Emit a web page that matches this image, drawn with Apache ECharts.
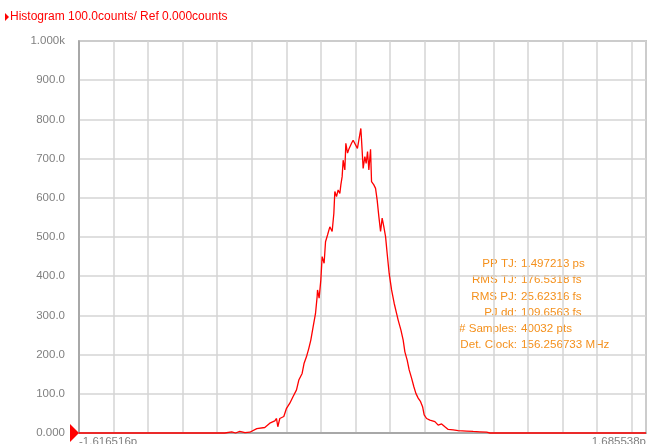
<!DOCTYPE html>
<html>
<head>
<meta charset="utf-8">
<script src="https://cdn.jsdelivr.net/npm/echarts@6/dist/echarts.min.js"></script>
<style>
html,body{margin:0;padding:0;background:#fff;}
#chart{width:655px;height:444px;}
</style>
</head>
<body>
<div id="chart"></div>
<script>
// ---- data (time offset in ps, histogram counts) ----
const xMin = -1.616516;
const xMax = 1.685538;
const timePs = [
  -1.616516, -0.7676, -0.7268, -0.7050, -0.6801, -0.6500, -0.6219, -0.5811, -0.5345, -0.5053,
  -0.4762, -0.4663, -0.4587, -0.4471, -0.4238, -0.4080, -0.3888, -0.3696, -0.3498, -0.3364,
  -0.3171, -0.3055, -0.2915, -0.2781, -0.2665, -0.2531, -0.2391, -0.2297, -0.2274, -0.2181,
  -0.2082, -0.2006, -0.1890, -0.1808, -0.1691, -0.1557, -0.1423, -0.1324, -0.1266, -0.1167,
  -0.1074, -0.0975, -0.0916, -0.0841, -0.0782, -0.0683, -0.0625, -0.0526, -0.0433, -0.0293,
  -0.0200, -0.0101, 0.0050, 0.0132, 0.0249, 0.0290, 0.0383, 0.0482, 0.0558, 0.0639,
  0.0715, 0.0814, 0.0872, 0.1006, 0.1105, 0.1199, 0.1298, 0.1397, 0.1490, 0.1589,
  0.1688, 0.1781, 0.1898, 0.2038, 0.2189, 0.2329, 0.2422, 0.2580, 0.2714, 0.2813,
  0.2947, 0.3063, 0.3203, 0.3337, 0.3454, 0.3588, 0.3728, 0.3844, 0.3937, 0.4077,
  0.4269, 0.4561, 0.4753, 0.4951, 0.5143, 0.5336, 0.5627, 0.5918, 0.6408, 0.6792,
  0.7183, 0.7573, 0.7765, 1.685538
];
const counts = [
  0, 0, 3, 0, 4, 1, 2, 11, 14, 25,
  31, 37, 16, 37, 42, 63, 76, 93, 110, 135,
  152, 178, 195, 216, 237, 271, 305, 348, 365, 344,
  390, 450, 433, 488, 505, 526, 514, 560, 616, 603,
  620, 611, 633, 654, 696, 671, 739, 714, 726, 739,
  747, 752, 726, 747, 777, 747, 675, 705, 688, 718,
  671, 724, 641, 633, 624, 594, 552, 514, 548, 526,
  501, 458, 407, 365, 331, 305, 288, 263, 237, 207,
  186, 161, 140, 118, 101, 89, 80, 67, 46, 37,
  33, 29, 20, 23, 16, 9, 8, 6, 5, 4,
  3, 2, 0, 0
];
const yTicks = ['0.000','100.0','200.0','300.0','400.0','500.0','600.0','700.0','800.0','900.0','1.000k'];
const titleText = 'Histogram 100.0counts/ Ref 0.000counts';
const statLabels = ['PP TJ:', 'RMS TJ:', 'RMS PJ:', 'PJ dd:', '# Samples:', 'Det. Clock:'];
const statValues = ['1.497213 ps', '176.5318 fs', '25.62316 fs', '109.6563 fs', '40032 pts', '156.256733 MHz'];

const seriesData = timePs.map((t, i) => [t, counts[i]]);
const FONT = 'Liberation Sans';
const ORANGE = '#f4901c';

const chart = echarts.init(document.getElementById('chart'), null, {renderer: 'canvas'});

const graphics = [
  {type: 'polygon', shape: {points: [[5, 13], [9, 17], [5, 21]]}, style: {fill: '#ff0000'}},
  {type: 'text', x: 10, y: 17, style: {text: titleText, fill: '#ff0000', font: '12px "' + FONT + '"', verticalAlign: 'middle'}},
  {type: 'polygon', shape: {points: [[70, 424], [79, 433], [70, 442]]}, style: {fill: '#ff0000'}, z: 10}
];
statLabels.forEach((lab, i) => {
  const y = 264 + i * 16.2;
  graphics.push({type: 'text', x: 517, y: y, style: {text: lab, fill: ORANGE, font: '11.6px "' + FONT + '"', align: 'right', verticalAlign: 'middle'}});
  graphics.push({type: 'text', x: 521, y: y, style: {text: statValues[i], fill: ORANGE, font: '11.6px "' + FONT + '"', align: 'left', verticalAlign: 'middle'}});
});

chart.setOption({
  animation: false,
  backgroundColor: '#ffffff',
  grid: {left: 79, right: 9, top: 41, bottom: 11, outerBoundsMode: 'none', containLabel: false, show: true, borderColor: '#9c9c9c', borderWidth: 1.5, backgroundColor: 'transparent'},
  xAxis: {
    type: 'value', min: xMin, max: xMax, interval: 0.2012,
    axisLine: {show: true, onZero: false, lineStyle: {color: '#9c9c9c', width: 1.5}},
    axisTick: {show: false},
    splitLine: {show: true, lineStyle: {color: '#d4d4d4', width: 1.5}},
    axisLabel: {
      margin: 3, color: '#808080', fontFamily: FONT, fontSize: 11.5,
      alignMinLabel: 'left', alignMaxLabel: 'right',
      formatter: function (v) {
        if (Math.abs(v - xMin) < 1e-6) return '-1.616516p';
        if (Math.abs(v - xMax) < 1e-6) return '1.685538p';
        return '';
      }
    }
  },
  yAxis: {
    type: 'value', min: 0, max: 1000, interval: 100,
    axisLine: {show: true, onZero: false, lineStyle: {color: '#9c9c9c', width: 1.5}},
    axisTick: {show: false},
    splitLine: {show: true, lineStyle: {color: '#d4d4d4', width: 1.5}},
    axisLabel: {
      margin: 14, fontFamily: FONT, fontSize: 11.5,
      color: function (v) { return v === 0 ? '#ff0000' : '#808080'; },
      formatter: function (v) { return yTicks[Math.round(v / 100)]; }
    }
  },
  series: [{
    type: 'line', data: seriesData, showSymbol: false, clip: false,
    lineStyle: {color: '#ff0000', width: 1.3}, itemStyle: {color: '#ff0000'}, z: 5
  }],
  graphic: graphics
});
</script>
</body>
</html>
